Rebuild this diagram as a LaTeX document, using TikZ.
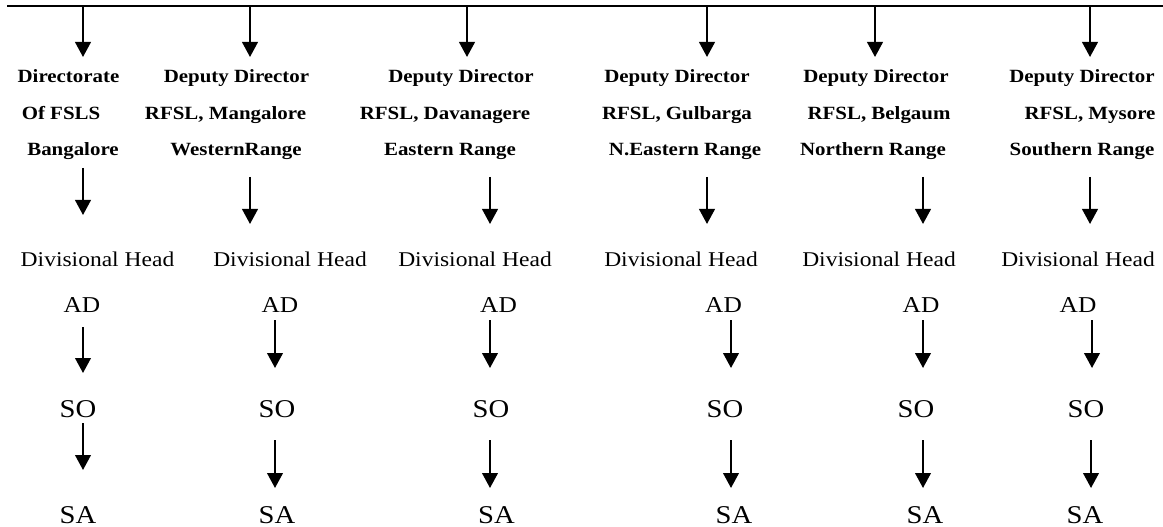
\documentclass[tikz,border=0pt]{standalone}
\usepackage{fontspec}
\setmainfont{Liberation Serif}[FakeStretch=1.12]
\usetikzlibrary{arrows.meta}
\tikzset{
  arr/.style={line width=1.5pt, -{Triangle[width=11.75pt,length=11.25pt]}},
  bt/.style={anchor=base, inner sep=0pt, font=\fontsize{14}{16}\selectfont\bfseries},
  dh/.style={anchor=base, inner sep=0pt, font=\fontsize{15.75}{18}\selectfont},
  ad/.style={anchor=base, inner sep=0pt, font=\fontsize{17}{19}\selectfont},
  so/.style={anchor=base, inner sep=0pt, font=\fontsize{19.2}{21}\selectfont},
}
\begin{document}
\begin{tikzpicture}[x=0.75pt,y=-0.75pt]
\useasboundingbox (0,0) rectangle (1163,527);
% top line
\coordinate (L) at (7,6);
\coordinate (R) at (1163,6);
\draw[line width=2pt] (L) -- (R);

% bold headers
\node[bt] (a1) at (68.5,83) {Directorate};
\node[bt] (b1) at (61,120) {Of FSLS};
\node[bt] (c1) at (73,156) {Bangalore};
\node[bt] (a2) at (236.5,83) {Deputy Director};
\node[bt] (b2) at (225.5,120) {RFSL, Mangalore};
\node[bt] (c2) at (236,156) {WesternRange};
\node[bt] (a3) at (461,83) {Deputy Director};
\node[bt] (b3) at (445,120) {RFSL, Davanagere};
\node[bt] (c3) at (450,156) {Eastern Range};
\node[bt] (a4) at (677,83) {Deputy Director};
\node[bt] (b4) at (677,120) {RFSL, Gulbarga};
\node[bt] (c4) at (685,156) {N.Eastern Range};
\node[bt] (a5) at (876,83) {Deputy Director};
\node[bt] (b5) at (879,120) {RFSL, Belgaum};
\node[bt] (c5) at (873,156) {Northern Range};
\node[bt] (a6) at (1082,83) {Deputy Director};
\node[bt] (b6) at (1090,120) {RFSL, Mysore};
\node[bt] (c6) at (1082,156) {Southern Range};

% divisional head
\foreach \i/\x in {1/97.5,2/290,3/475,4/681,5/879,6/1078}
  \node[dh] (d\i) at (\x,267) {Divisional Head};
% AD
\foreach \i/\x in {1/82,2/280,3/498.5,4/723.5,5/921,6/1078}
  \node[ad] (e\i) at (\x,312) {AD};
% SO
\foreach \i/\x in {1/78,2/277,3/491,4/725,5/916,6/1086}
  \node[so] (s\i) at (\x,417) {SO};
% SA
\foreach \i/\x in {1/78,2/277,3/496.5,4/734,5/925,6/1085}
  \node[so] (t\i) at (\x,523) {SA};

% top arrows
\foreach \i/\x in {1/83,2/250,3/467,4/707,5/875,6/1090}{
  \coordinate (p\i) at (\x,7);
  \coordinate (q\i) at (\x,57);
  \draw[arr] (p\i) -- (q\i);
}
% header -> divisional head
\foreach \i/\x/\ya/\yb in {1/83/168/215,2/250/177/224,3/490/177/224,4/707/177/224,5/923/177/224,6/1090/177/224}{
  \coordinate (u\i) at (\x,\ya);
  \coordinate (v\i) at (\x,\yb);
  \draw[arr] (u\i) -- (v\i);
}
% AD -> SO
\foreach \i/\x/\ya/\yb in {1/83/327/373,2/275/320/368,3/490/320/368,4/731/320/368,5/923/320/368,6/1092/320/368}{
  \coordinate (w\i) at (\x,\ya);
  \coordinate (z\i) at (\x,\yb);
  \draw[arr] (w\i) -- (z\i);
}
% SO -> SA
\foreach \i/\x/\ya/\yb in {1/83/423/470,2/275/440/488,3/490/440/488,4/731/440/488,5/923/440/488,6/1091/440/488}{
  \coordinate (m\i) at (\x,\ya);
  \coordinate (n\i) at (\x,\yb);
  \draw[arr] (m\i) -- (n\i);
}
\end{tikzpicture}
\end{document}
